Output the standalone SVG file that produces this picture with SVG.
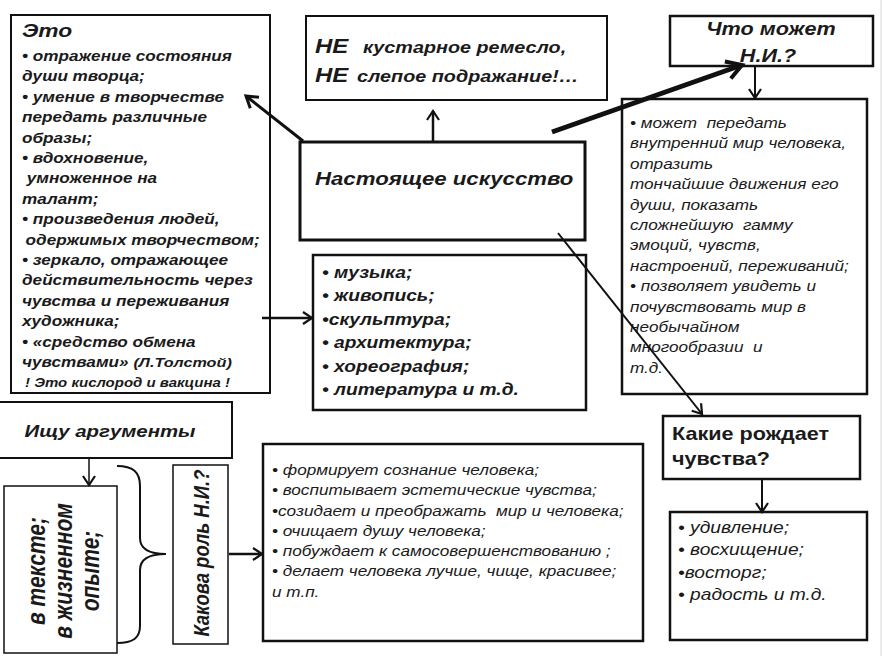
<svg xmlns="http://www.w3.org/2000/svg" width="884" height="656" viewBox="0 0 884 656">
<defs>
<style>
.box{fill:#fff;stroke:#111;}
.t{font-family:"Liberation Sans",Arial,sans-serif;fill:#1a1a1a;}
.bi{font-weight:bold;font-style:italic;}
.i{font-style:italic;}
.b{font-weight:bold;}
.c{fill:none;stroke:#111;}
</style>
<marker id="ms" viewBox="-12 -9 14 18" refX="0" refY="0" markerWidth="14" markerHeight="18" orient="auto" markerUnits="userSpaceOnUse" overflow="visible">
<path d="M-9,-6 L0,0 L-9,6" fill="none" stroke="#111" stroke-width="2.2"/>
</marker>
<marker id="mm" viewBox="-14 -10 16 20" refX="0" refY="0" markerWidth="16" markerHeight="20" orient="auto" markerUnits="userSpaceOnUse" overflow="visible">
<path d="M-11,-7 L0,0 L-11,7" fill="none" stroke="#111" stroke-width="3"/>
</marker>
<marker id="ml" viewBox="-18 -12 20 24" refX="0" refY="0" markerWidth="20" markerHeight="24" orient="auto" markerUnits="userSpaceOnUse" overflow="visible">
<path d="M-15,-9 L0,0 L-15,9" fill="none" stroke="#111" stroke-width="4"/>
</marker>
</defs>
<rect x="0" y="0" width="884" height="656" fill="#fff"/>
<line x1="881" y1="0" x2="881" y2="656" stroke="#d8d8d8" stroke-width="1"/>

<g id="n_eto">
<rect class="box" x="11" y="15" width="259" height="378" stroke-width="2"/>
<text class="t bi" font-size="19" transform="matrix(1.2 0 0 1 22 37)">Это</text>
<text class="t bi" font-size="14.3" transform="matrix(1.2 0 0 1 22 61)"><tspan x="0" y="0">• отражение состояния</tspan><tspan x="0" dy="20.4">души творца;</tspan><tspan x="0" dy="20.4">• умение в творчестве</tspan><tspan x="0" dy="20.4">передать различные</tspan><tspan x="0" dy="20.4">образы;</tspan><tspan x="0" dy="20.4">• вдохновение,</tspan><tspan x="4" dy="20.4">умноженное на</tspan><tspan x="0" dy="20.4">талант;</tspan><tspan x="0" dy="20.4">• произведения людей,</tspan><tspan x="3" dy="20.4">одержимых творчеством;</tspan><tspan x="0" dy="20.4">• зеркало, отражающее</tspan><tspan x="0" dy="20.4">действительность через</tspan><tspan x="0" dy="20.4">чувства и переживания</tspan><tspan x="0" dy="20.4">художника;</tspan><tspan x="0" dy="20.4">• «средство обмена</tspan><tspan x="0" dy="20.4">чувствами» <tspan font-size="13.5">(Л.Толстой)</tspan></tspan></text>
<text class="t bi" font-size="12.5" transform="matrix(1.2 0 0 1 25 387)">! Это кислород и вакцина !</text>
</g>

<g id="n_ne">
<rect class="box" x="306" y="16" width="301" height="84" stroke-width="2"/>
<text class="t bi" transform="matrix(1.2 0 0 1 315 53)"><tspan font-size="20">НЕ</tspan><tspan x="40" font-size="16.5">кустарное ремесло,</tspan></text>
<text class="t bi" transform="matrix(1.2 0 0 1 315 82)"><tspan font-size="20">НЕ</tspan><tspan x="35" font-size="16.5">слепое подражание!…</tspan></text>
</g>

<g id="n_center">
<rect class="box" x="300" y="142" width="285" height="98" stroke-width="3"/>
<text class="t bi" font-size="18.5" transform="matrix(1.2 0 0 1 315 185)">Настоящее искусство</text>
</g>

<g id="n_chto">
<rect class="box" x="670" y="16" width="203" height="50" stroke-width="2.5"/>
<text class="t bi" font-size="18" text-anchor="middle" transform="matrix(1.2 0 0 1 771 35)">Что может</text>
<text class="t bi" font-size="18" text-anchor="middle" transform="matrix(1.2 0 0 1 768 62)">Н.И.?</text>
</g>

<g id="n_might">
<rect class="box" x="622" y="99" width="245" height="295" stroke-width="2.5"/>
<text class="t i" font-size="14.3" transform="matrix(1.2 0 0 1 630 128)"><tspan x="0" y="0">• может&#160; передать</tspan><tspan x="0" dy="20.4">внутренний мир человека,</tspan><tspan x="0" dy="20.4">отразить</tspan><tspan x="0" dy="20.4">тончайшие движения его</tspan><tspan x="0" dy="20.4">души, показать</tspan><tspan x="0" dy="20.4">сложнейшую&#160; гамму</tspan><tspan x="0" dy="20.4">эмоций, чувств,</tspan><tspan x="0" dy="20.4">настроений, переживаний;</tspan><tspan x="0" dy="20.4">• позволяет увидеть и</tspan><tspan x="0" dy="20.4">почувствовать мир в</tspan><tspan x="0" dy="20.4">необычайном</tspan><tspan x="0" dy="20.4">многообразии&#160; и</tspan><tspan x="0" dy="20.4">т.д.</tspan></text>
</g>

<g id="n_list">
<rect class="box" x="313" y="255" width="273" height="155" stroke-width="2.5"/>
<text class="t bi" font-size="16" transform="matrix(1.2 0 0 1 322 278)"><tspan x="0" y="0">• музыка;</tspan><tspan x="0" dy="23.4">• живопись;</tspan><tspan x="0" dy="23.4">•скульптура;</tspan><tspan x="0" dy="23.4">• архитектура;</tspan><tspan x="0" dy="23.4">• хореография;</tspan><tspan x="0" dy="23.4">• литература и т.д.</tspan></text>
</g>

<g id="n_ishchu">
<rect class="box" x="-2" y="402" width="234" height="56" stroke-width="2"/>
<text class="t bi" font-size="17" text-anchor="middle" transform="matrix(1.2 0 0 1 110 437)">Ищу аргументы</text>
</g>

<g id="n_gde">
<rect class="box" x="4" y="486" width="113" height="167" stroke-width="1.5"/>
<text class="t bi" font-size="21" text-anchor="middle" transform="translate(45 571) scale(1.25 1) rotate(-90)"><tspan x="0" y="0">в тексте;</tspan><tspan x="0" dy="21.6">в жизненном</tspan><tspan x="0" dy="21.6">опыте;</tspan></text>
</g>

<g id="n_rol">
<rect class="box" x="173" y="465" width="55" height="179" stroke-width="1.5"/>
<text class="t bi" font-size="18.5" text-anchor="middle" transform="translate(209 553) scale(1.2 1) rotate(-90)">Какова роль Н.И.?</text>
</g>

<g id="n_rolelist">
<rect class="box" x="263" y="444" width="380" height="197" stroke-width="2.5"/>
<text class="t i" font-size="14.3" transform="matrix(1.2 0 0 1 272 475)"><tspan x="0" y="0">• формирует сознание человека;</tspan><tspan x="0" dy="20.3">• воспитывает эстетические чувства;</tspan><tspan x="0" dy="20.3">•созидает и преображать&#160; мир и человека;</tspan><tspan x="0" dy="20.3">• очищает душу человека;</tspan><tspan x="0" dy="20.3">• побуждает к самосовершенствованию ;</tspan><tspan x="0" dy="20.3">• делает человека лучше, чище, красивее;</tspan><tspan x="0" dy="20.3">и т.п.</tspan></text>
</g>

<g id="n_kakie">
<rect class="box" x="663" y="416" width="197" height="63" stroke-width="2.5"/>
<text class="t b" font-size="18" transform="matrix(1.2 0 0 1 672 440)"><tspan x="0" y="0">Какие рождает</tspan><tspan x="0" dy="25">чувства?</tspan></text>
</g>

<g id="n_feel">
<rect class="box" x="670" y="512" width="197" height="128" stroke-width="2.5"/>
<text class="t i" font-size="16" transform="matrix(1.2 0 0 1 678 533)"><tspan x="0" y="0">• удивление;</tspan><tspan x="0" dy="22.3">• восхищение;</tspan><tspan x="0" dy="22.3">•восторг;</tspan><tspan x="0" dy="22.3">• радость и т.д.</tspan></text>
</g>

<g id="connectors">
<line class="c" x1="433" y1="142" x2="433" y2="111" stroke-width="2.5" marker-end="url(#ms)"/>
<line class="c" x1="303" y1="141" x2="246" y2="96" stroke-width="3" marker-end="url(#mm)"/>
<line class="c" x1="552" y1="132" x2="742" y2="65" stroke-width="5" marker-end="url(#ml)"/>
<line class="c" x1="558" y1="233" x2="702" y2="414" stroke-width="2" marker-end="url(#ms)"/>
<line class="c" x1="262" y1="318" x2="312" y2="318" stroke-width="2.5" marker-end="url(#ms)"/>
<line class="c" x1="755" y1="67" x2="755" y2="98" stroke-width="2" marker-end="url(#ms)"/>
<line class="c" x1="89" y1="459" x2="89" y2="485" stroke-width="1.5" marker-end="url(#ms)"/>
<path class="c" d="M117,466 C133,466 140,472 140,486 L140,538 C140,549 150,554 166,554 C150,554 140,559 140,570 L140,626 C140,638 133,643 117,643" stroke-width="2"/>
<line class="c" x1="229" y1="554" x2="262" y2="554" stroke-width="2.5" marker-end="url(#ms)"/>
<line class="c" x1="762" y1="480" x2="762" y2="512" stroke-width="2" marker-end="url(#ms)"/>
</g>
</svg>
